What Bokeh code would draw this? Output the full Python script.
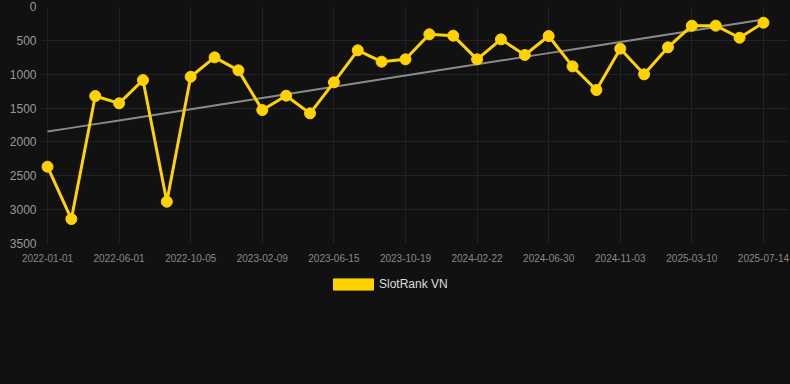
import numpy as np
from bokeh.plotting import figure
from bokeh.layouts import column
from bokeh.models import Range1d, FixedTicker, Legend, LegendItem, ColumnDataSource
from bokeh.embed import file_html
from bokeh.resources import INLINE

dates = [
    "2022-01-01", "2022-02-20", "2022-04-11", "2022-06-01", "2022-07-13", "2022-08-24",
    "2022-10-05", "2022-11-16", "2022-12-28", "2023-02-09", "2023-03-23", "2023-05-04",
    "2023-06-15", "2023-07-27", "2023-09-07", "2023-10-19", "2023-11-30", "2024-01-11",
    "2024-02-22", "2024-04-05", "2024-05-18", "2024-06-30", "2024-08-11", "2024-09-22",
    "2024-11-03", "2024-12-15", "2025-01-26", "2025-03-10", "2025-04-21", "2025-06-02",
    "2025-07-14",
]
rank = [
    2366, 3139, 1322, 1430, 1086, 2883, 1037, 751, 943, 1529, 1317, 1578, 1120, 647, 815,
    780, 411, 431, 780, 485, 716, 436, 884, 1233, 623, 1002, 603, 283, 283, 461, 239,
]
label_every = 3
y_ticks = [0, 500, 1000, 1500, 2000, 2500, 3000, 3500]
series_name = "SlotRank VN"

YELLOW = "#FFD200"
BG = "#111111"
GRID = "#222222"

idx = np.arange(len(dates))
slope, intercept = np.polyfit(idx, np.array(rank, dtype=float), 1)
trend = slope * idx + intercept

src = ColumnDataSource(dict(x=idx, y=rank, trend=trend, date=dates))

p = figure(
    width=790, height=270, output_backend="svg", toolbar_location=None,
    x_range=Range1d(-0.294, 31.05), y_range=Range1d(3500, 0),
    min_border_left=40, min_border_right=2, min_border_top=6, min_border_bottom=27,
    background_fill_color=BG, border_fill_color=BG, outline_line_color=None,
)
p.styles = {"background-color": BG}

p.line("x", "trend", source=src, line_color="#8a8a8a", line_width=2)
p.line("x", "y", source=src, line_color=YELLOW, line_width=3)
p.scatter("x", "y", source=src, size=11, fill_color=YELLOW, line_color=YELLOW)

xt = list(range(0, len(dates), label_every))
p.xaxis.ticker = FixedTicker(ticks=xt)
p.xaxis.major_label_overrides = {i: dates[i] for i in xt}
p.yaxis.ticker = FixedTicker(ticks=y_ticks)

for ax in (p.xaxis, p.yaxis):
    ax.axis_line_color = None
    ax.major_tick_line_color = None
    ax.minor_tick_line_color = None
    ax.major_tick_out = 0
    ax.major_label_text_font = "Liberation Sans"

p.xaxis.major_label_text_font_size = "10px"
p.xaxis.major_label_text_color = "#888888"
p.xaxis.major_label_standoff = 10
p.yaxis.major_label_text_font_size = "12px"
p.yaxis.major_label_text_color = "#999999"
p.yaxis.major_label_standoff = 4

p.xgrid.ticker = FixedTicker(ticks=xt)
p.ygrid.ticker = FixedTicker(ticks=y_ticks)
p.xgrid.grid_line_color = GRID
p.ygrid.grid_line_color = GRID

# legend strip below the chart
lg = figure(
    width=790, height=114, output_backend="svg", toolbar_location=None,
    x_range=Range1d(0, 1), y_range=Range1d(0, 1),
    min_border=0, background_fill_color=BG, border_fill_color=BG, outline_line_color=None,
)
lg.styles = {"background-color": BG}
lg.axis.visible = False
lg.grid.visible = False
# legend swatch renderer, kept outside the visible range
dummy = lg.quad(left=[-3], right=[-2], top=[-2], bottom=[-3], fill_color=YELLOW, line_color=YELLOW)
legend = Legend(
    items=[LegendItem(label=series_name, renderers=[dummy])],
    location=(288, 93), margin=0, padding=0,
    glyph_width=50, glyph_height=14, label_height=14, label_standoff=1,
    label_text_font="Liberation Sans", label_text_font_size="12px",
    label_text_color="#dddddd",
    background_fill_alpha=0, border_line_alpha=0,
)
lg.add_layout(legend, "center")

page = column(p, lg, spacing=0)
page.styles = {"background-color": BG}
open("out.html", "w").write(file_html(page, INLINE))
